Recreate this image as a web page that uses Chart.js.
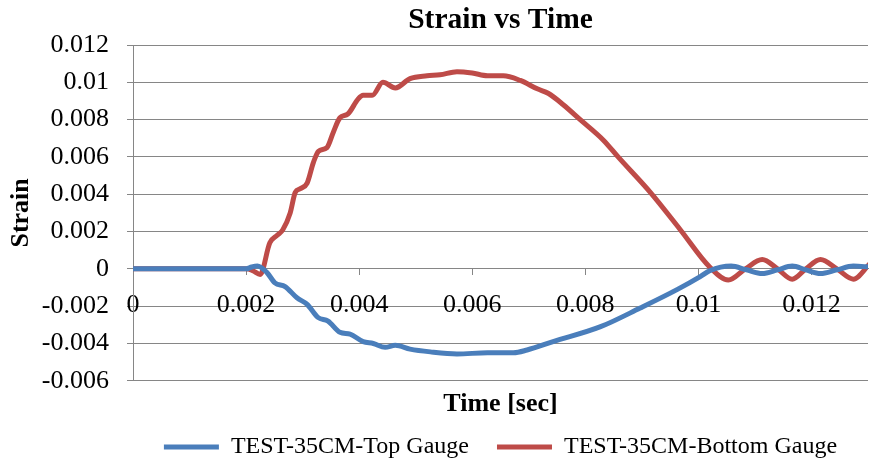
<!DOCTYPE html>
<html>
<head>
<meta charset="utf-8">
<script src="https://cdn.jsdelivr.net/npm/chart.js@4.4.0/dist/chart.umd.min.js"></script>
<style>
    body { margin: 0; background: #fff; }
    #wrap { width: 872px; height: 461px; position: relative; }
</style>
</head>
<body>
<div id="wrap"><canvas id="chart1"></canvas></div>
<script>
// TICKS
var xTicks = [0, 0.002, 0.004, 0.006, 0.008, 0.01, 0.012];
var yTicks = [-0.006, -0.004, -0.002, 0, 0.002, 0.004, 0.006, 0.008, 0.01, 0.012];

// TOP GAUGE (blue)
var timeTop = [0, 0.001, 0.002, 0.0021, 0.0022, 0.00237, 0.00251, 0.00269, 0.0029, 0.00308, 0.00327,
    0.00345, 0.00366, 0.00384, 0.00407, 0.00425, 0.00446, 0.00464, 0.0049, 0.00526, 0.00573, 0.00627,
    0.00673, 0.00697, 0.00743, 0.00827, 0.00897, 0.00963, 0.01004, 0.0102, 0.01058, 0.01085, 0.01113,
    0.0114, 0.01166, 0.0119, 0.01216, 0.01245, 0.01274, 0.01304];
var strainTop = [0, 0, 0, 0.0001, 0.00015, -0.0002, -0.00075, -0.00095, -0.00155, -0.0019, -0.0026,
    -0.0028, -0.0034, -0.0035, -0.0039, -0.004, -0.0042, -0.0041, -0.0043, -0.00445, -0.00456, -0.0045,
    -0.0045, -0.00435, -0.0039, -0.0031, -0.0021, -0.0011, -0.0004, -0.0001, 0.00015, -0.00005, -0.00025,
    -0.00005, 0.00015, -0.00005, -0.00025, -0.00005, 0.00015, 0.0001];

// BOTTOM GAUGE (red)
var timeBottom = [0, 0.001, 0.002, 0.00212, 0.00225, 0.00242, 0.00255, 0.00265, 0.00278, 0.00287,
    0.00296, 0.00308, 0.00319, 0.00328, 0.00343, 0.00354, 0.00366, 0.0038, 0.00398, 0.00407, 0.00423,
    0.00442, 0.00464, 0.0049, 0.0052, 0.00543, 0.00573, 0.006, 0.00627, 0.00655, 0.00685, 0.00715,
    0.00735, 0.00761, 0.00791, 0.00832, 0.00858, 0.00915, 0.00968, 0.0102, 0.01053, 0.01083, 0.01113,
    0.0114, 0.01166, 0.0119, 0.01216, 0.01245, 0.01274, 0.01304];
var strainBottom = [0, 0, 0, -0.0001, -0.0003, 0.0014, 0.0018, 0.0021, 0.003, 0.0041,
    0.0043, 0.0046, 0.0057, 0.0063, 0.0065, 0.0073, 0.0081, 0.0083, 0.0091, 0.0093, 0.0093,
    0.01, 0.0097, 0.0102, 0.01035, 0.0104, 0.01057, 0.0105, 0.01035, 0.01035, 0.0101, 0.00965,
    0.0094, 0.0088, 0.008, 0.0069, 0.006, 0.0041, 0.0021, 0.0001, -0.0006, 0, 0.0005,
    0, -0.00055, 0, 0.0005, 0, -0.00055, 0.0003];

function toPoints(xs, ys) {
    return xs.map(function (t, i) { return { x: t, y: ys[i] }; });
}

function fmt(v) {
    return String(+v.toFixed(4));
}

var gridGray = '#868686';
var serif = '"Liberation Serif", "Times New Roman", serif';

var ctx = document.getElementById('chart1').getContext('2d');
var chart1 = new Chart(ctx, {
    type: 'line',
    data: {
        datasets: [{
            label: 'TEST-35CM-Top Gauge',
            data: toPoints(timeTop, strainTop),
            borderColor: '#4A7EBB',
            backgroundColor: '#4A7EBB',
            borderWidth: 5,
            borderCapStyle: 'round',
            pointRadius: 0,
            cubicInterpolationMode: 'monotone'
        }, {
            label: 'TEST-35CM-Bottom Gauge',
            data: toPoints(timeBottom, strainBottom),
            borderColor: '#BE4B48',
            backgroundColor: '#BE4B48',
            borderWidth: 5,
            borderCapStyle: 'round',
            pointRadius: 0,
            cubicInterpolationMode: 'monotone'
        }]
    },
    options: {
        responsive: true,
        maintainAspectRatio: false,
        animation: false,
        layout: { padding: { left: 2, right: 4, top: 0, bottom: -8 } },
        plugins: {
            title: {
                display: true,
                text: 'Strain vs Time',
                fullSize: false,
                color: '#000',
                font: { family: serif, size: 29.5, weight: 'bold' },
                padding: { top: 3, bottom: 6.6 }
            },
            legend: {
                position: 'bottom',
                fullSize: false,
                // x axis title sits in the legend box, above the items
                title: {
                    display: true,
                    text: 'Time [sec]',
                    color: '#000',
                    font: { family: serif, size: 26, weight: 'bold' },
                    padding: { top: 10, bottom: -15 }
                },
                labels: {
                    usePointStyle: true,
                    pointStyle: 'line',
                    pointStyleWidth: 55,
                    color: '#000',
                    padding: 28,
                    font: { family: serif, size: 24 }
                }
            },
            tooltip: { enabled: false }
        },
        scales: {
            x: {
                type: 'linear',
                position: { y: 0 },
                min: 0,
                max: 0.013,
                afterBuildTicks: function (scale) {
                    scale.ticks = xTicks.map(function (v) { return { value: v }; });
                },
                grid: { drawOnChartArea: false, drawTicks: true, tickLength: 6, color: gridGray },
                border: { display: true, color: gridGray, width: 1 },
                ticks: {
                    padding: 15,
                    maxRotation: 0,
                    autoSkip: false,
                    color: '#000',
                    font: { family: serif, size: 26 },
                    callback: fmt
                }
            },
            y: {
                min: -0.006,
                max: 0.012,
                afterBuildTicks: function (scale) {
                    scale.ticks = yTicks.map(function (v) { return { value: v }; });
                },
                afterFit: function (scale) {
                    scale.width = 131;
                },
                grid: { color: gridGray, lineWidth: 1, tickLength: 6 },
                border: { display: true, color: gridGray, width: 1 },
                title: {
                    display: true,
                    text: 'Strain',
                    color: '#000',
                    font: { family: serif, size: 26, weight: 'bold' },
                    padding: { top: 4, bottom: 4 }
                },
                ticks: {
                    padding: 18,
                    autoSkip: false,
                    color: '#000',
                    font: { family: serif, size: 26 },
                    callback: fmt
                }
            }
        }
    }
});
</script>
</body>
</html>
